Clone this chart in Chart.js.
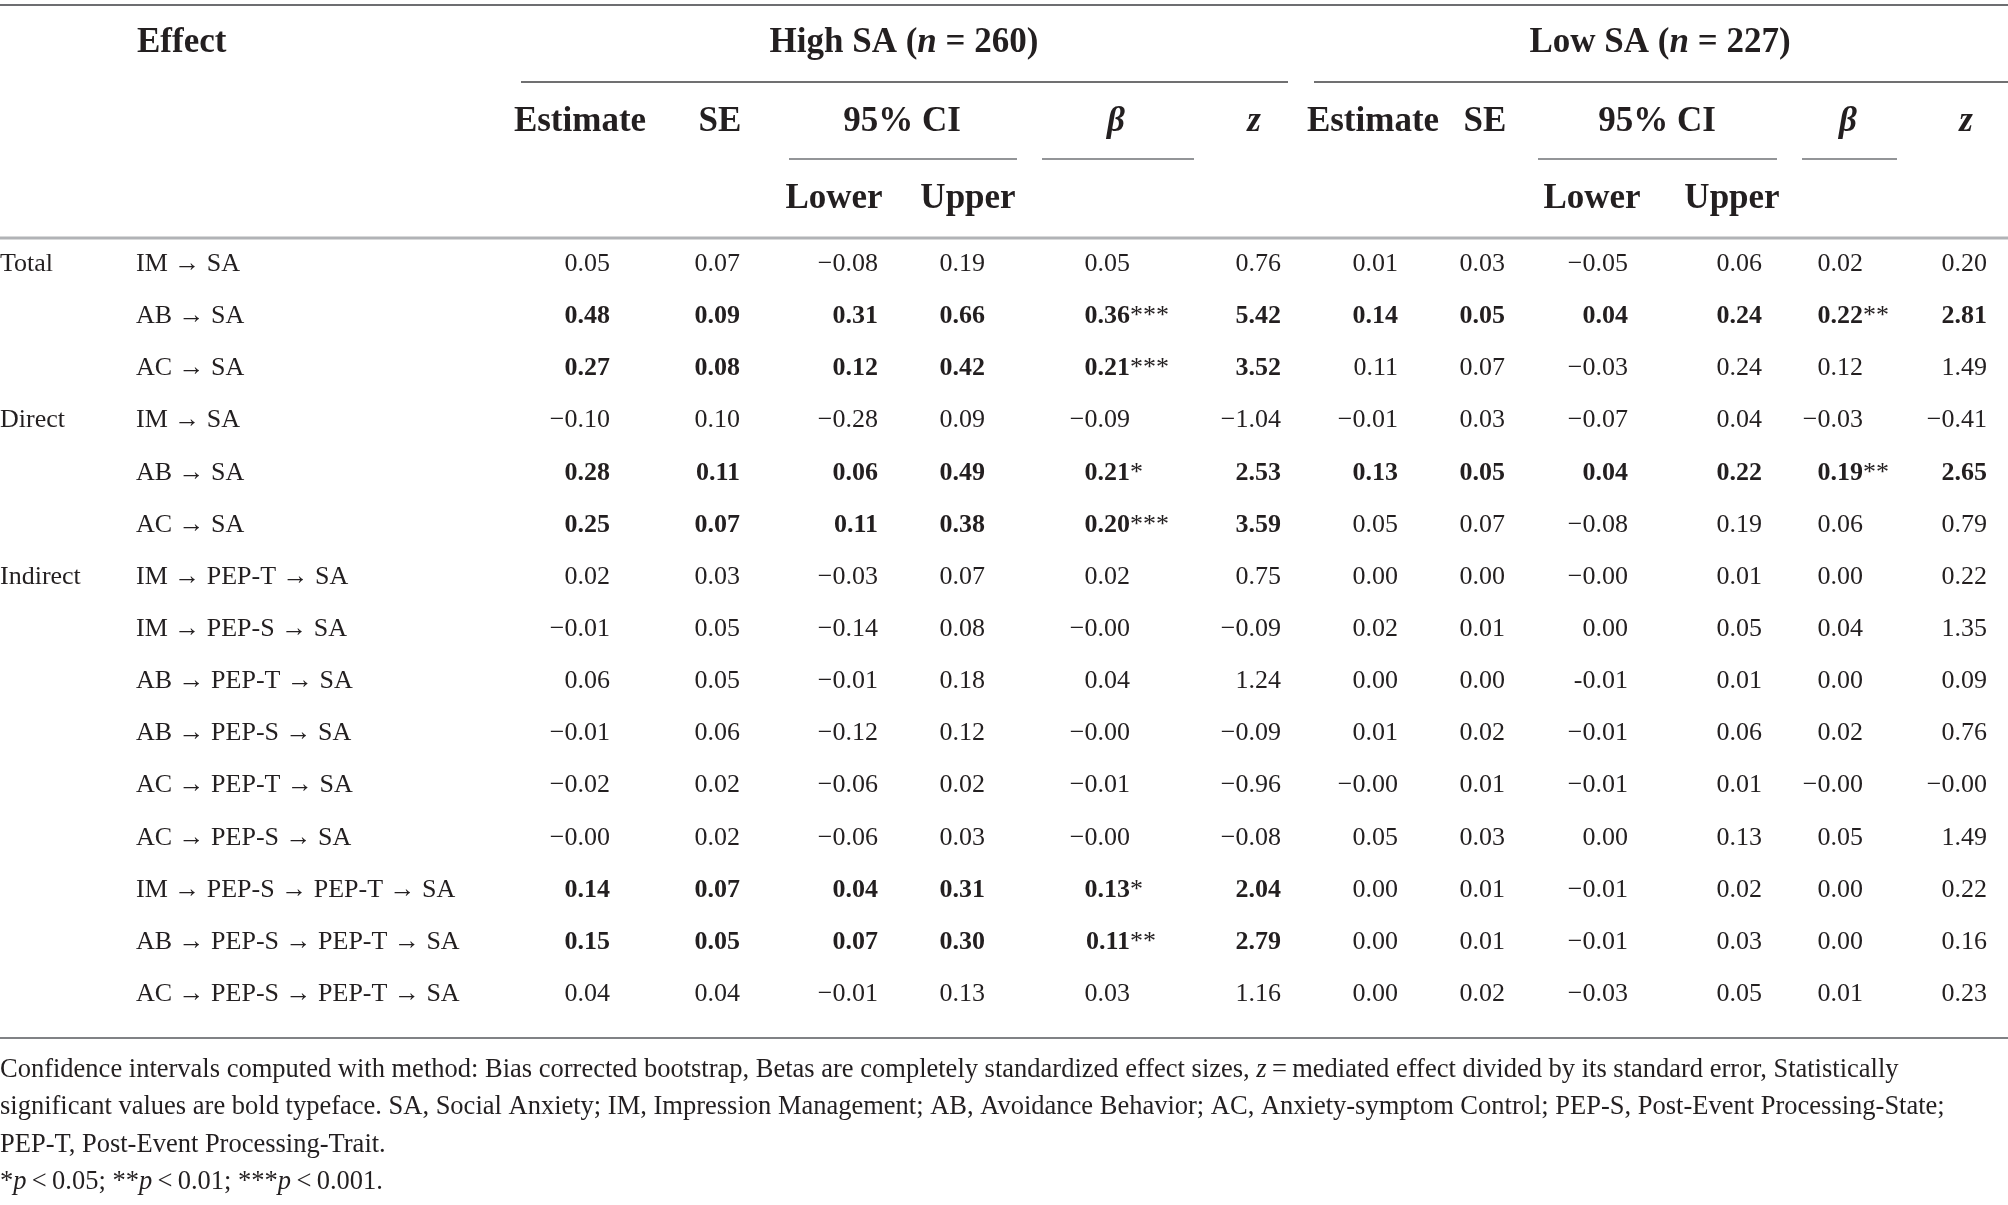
<!DOCTYPE html>
<html>
<head>
<meta charset="utf-8">
<script src="https://cdn.jsdelivr.net/npm/chart.js@4.4.1/dist/chart.umd.min.js"></script>
<style>
  html, body { margin: 0; background: #fff; }
  #wrap { width: 2008px; height: 1205px; position: relative; }
</style>
</head>
<body>
<div id="wrap"><canvas id="tbl"></canvas></div>
<script>
// Row labels
const groupLabels = ['Total', 'Direct', 'Indirect'];
const groupStartRows = [0, 3, 6];
const effects = [
  'IM → SA', 'AB → SA', 'AC → SA',
  'IM → SA', 'AB → SA', 'AC → SA',
  'IM → PEP-T → SA', 'IM → PEP-S → SA', 'AB → PEP-T → SA', 'AB → PEP-S → SA',
  'AC → PEP-T → SA', 'AC → PEP-S → SA',
  'IM → PEP-S → PEP-T → SA', 'AB → PEP-S → PEP-T → SA', 'AC → PEP-S → PEP-T → SA'
];

// High SA (n = 260)
const highEstimate = ['0.05', '0.48', '0.27', '−0.10', '0.28', '0.25', '0.02', '−0.01', '0.06', '−0.01', '−0.02', '−0.00', '0.14', '0.15', '0.04'];
const highSE       = ['0.07', '0.09', '0.08', '0.10', '0.11', '0.07', '0.03', '0.05', '0.05', '0.06', '0.02', '0.02', '0.07', '0.05', '0.04'];
const highLower    = ['−0.08', '0.31', '0.12', '−0.28', '0.06', '0.11', '−0.03', '−0.14', '−0.01', '−0.12', '−0.06', '−0.06', '0.04', '0.07', '−0.01'];
const highUpper    = ['0.19', '0.66', '0.42', '0.09', '0.49', '0.38', '0.07', '0.08', '0.18', '0.12', '0.02', '0.03', '0.31', '0.30', '0.13'];
const highBeta     = ['0.05', '0.36***', '0.21***', '−0.09', '0.21*', '0.20***', '0.02', '−0.00', '0.04', '−0.00', '−0.01', '−0.00', '0.13*', '0.11**', '0.03'];
const highZ        = ['0.76', '5.42', '3.52', '−1.04', '2.53', '3.59', '0.75', '−0.09', '1.24', '−0.09', '−0.96', '−0.08', '2.04', '2.79', '1.16'];
const highBold     = [false, true, true, false, true, true, false, false, false, false, false, false, true, true, false];

// Low SA (n = 227)
const lowEstimate = ['0.01', '0.14', '0.11', '−0.01', '0.13', '0.05', '0.00', '0.02', '0.00', '0.01', '−0.00', '0.05', '0.00', '0.00', '0.00'];
const lowSE       = ['0.03', '0.05', '0.07', '0.03', '0.05', '0.07', '0.00', '0.01', '0.00', '0.02', '0.01', '0.03', '0.01', '0.01', '0.02'];
const lowLower    = ['−0.05', '0.04', '−0.03', '−0.07', '0.04', '−0.08', '−0.00', '0.00', '-0.01', '−0.01', '−0.01', '0.00', '−0.01', '−0.01', '−0.03'];
const lowUpper    = ['0.06', '0.24', '0.24', '0.04', '0.22', '0.19', '0.01', '0.05', '0.01', '0.06', '0.01', '0.13', '0.02', '0.03', '0.05'];
const lowBeta     = ['0.02', '0.22**', '0.12', '−0.03', '0.19**', '0.06', '0.00', '0.04', '0.00', '0.02', '−0.00', '0.05', '0.00', '0.00', '0.01'];
const lowZ        = ['0.20', '2.81', '1.49', '−0.41', '2.65', '0.79', '0.22', '1.35', '0.09', '0.76', '−0.00', '1.49', '0.22', '0.16', '0.23'];
const lowBold     = [false, true, false, false, true, false, false, false, false, false, false, false, false, false, false];

// Column layout (right edge of the numbers, in px of the 2008 wide page)
const columns = [
  { values: highEstimate, bold: highBold, x: 610 },
  { values: highSE,       bold: highBold, x: 740 },
  { values: highLower,    bold: highBold, x: 878 },
  { values: highUpper,    bold: highBold, x: 985 },
  { values: highBeta,     bold: highBold, x: 1130 },
  { values: highZ,        bold: highBold, x: 1281 },
  { values: lowEstimate,  bold: lowBold,  x: 1398 },
  { values: lowSE,        bold: lowBold,  x: 1505 },
  { values: lowLower,     bold: lowBold,  x: 1628 },
  { values: lowUpper,     bold: lowBold,  x: 1762 },
  { values: lowBeta,      bold: lowBold,  x: 1863 },
  { values: lowZ,         bold: lowBold,  x: 1987 }
];

const INK = '#231f20';
const SERIF = '"Liberation Serif", "DejaVu Serif", serif';
const DATA_SIZE = 26;
const HEAD_SIZE = 35;
const NOTE_SIZE = 26.5;
const THIN = '\u2009';

// header rows / rules expressed in row units (row 0 = first data row)
const Y_TITLE = -4.25, Y_SUB = -2.75, Y_SUB2 = -1.26;
const Y_TOP = -4.94, Y_GROUP = -3.46, Y_CI = -1.985, Y_HEAD = -0.47, Y_BOTTOM = 14.874;
const Y_NOTES = [15.447, 16.157, 16.886, 17.595];

function font(style, size) {
  return `${style} ${size}px ${SERIF}`;
}

// draws a list of runs [{t, s}] where s is the font style
function drawRuns(ctx, runs, x, y, size, align) {
  let total = 0;
  runs.forEach(r => { ctx.font = font(r.s, size); total += ctx.measureText(r.t).width; });
  let cx = align === 'center' ? x - total / 2 : align === 'right' ? x - total : x;
  ctx.textAlign = 'left';
  runs.forEach(r => {
    ctx.font = font(r.s, size);
    ctx.fillText(r.t, cx, y);
    cx += ctx.measureText(r.t).width;
  });
}

function rule(ctx, xs, ys, x0, x1, yv, color, w) {
  const y = ys.getPixelForValue(yv);
  ctx.save();
  ctx.strokeStyle = color;
  ctx.lineWidth = w;
  ctx.beginPath();
  ctx.moveTo(xs.getPixelForValue(x0), y);
  ctx.lineTo(xs.getPixelForValue(x1), y);
  ctx.stroke();
  ctx.restore();
}

const tablePlugin = {
  id: 'tableText',
  afterDatasetsDraw(chart) {
    const ctx = chart.ctx;
    const xs = chart.scales.x;
    const ys = chart.scales.y;
    const base = size => size * 0.33; // baseline offset from visual centre
    ctx.save();
    ctx.fillStyle = INK;
    ctx.textBaseline = 'alphabetic';

    // rules
    rule(ctx, xs, ys, 0, 2008, Y_TOP, '#6d6e71', 2);
    rule(ctx, xs, ys, 521, 1288, Y_GROUP, '#414042', 1.6);
    rule(ctx, xs, ys, 1314, 2008, Y_GROUP, '#414042', 1.6);
    rule(ctx, xs, ys, 789, 1017, Y_CI, '#939598', 2);
    rule(ctx, xs, ys, 1042, 1194, Y_CI, '#939598', 2);
    rule(ctx, xs, ys, 1538, 1777, Y_CI, '#939598', 2);
    rule(ctx, xs, ys, 1802, 1897, Y_CI, '#939598', 2);
    rule(ctx, xs, ys, 0, 2008, Y_HEAD, '#b1b3b6', 3);
    rule(ctx, xs, ys, 0, 2008, Y_BOTTOM, '#808285', 2);

    // headers
    const hy = v => ys.getPixelForValue(v) + base(HEAD_SIZE);
    drawRuns(ctx, [{ t: 'Effect', s: 'bold' }], xs.getPixelForValue(137), hy(Y_TITLE), HEAD_SIZE, 'left');
    drawRuns(ctx, [{ t: 'High SA (', s: 'bold' }, { t: 'n', s: 'italic bold' }, { t: ' = 260)', s: 'bold' }],
      xs.getPixelForValue(904), hy(Y_TITLE), HEAD_SIZE, 'center');
    drawRuns(ctx, [{ t: 'Low SA (', s: 'bold' }, { t: 'n', s: 'italic bold' }, { t: ' = 227)', s: 'bold' }],
      xs.getPixelForValue(1660), hy(Y_TITLE), HEAD_SIZE, 'center');

    const subHeads = [
      ['Estimate', 580, 'bold'], ['SE', 720, 'bold'], ['95% CI', 902, 'bold'], ['β', 1116, 'italic bold'], ['z', 1254, 'italic bold'],
      ['Estimate', 1373, 'bold'], ['SE', 1485, 'bold'], ['95% CI', 1657, 'bold'], ['β', 1848, 'italic bold'], ['z', 1966, 'italic bold']
    ];
    subHeads.forEach(([t, x, s]) => drawRuns(ctx, [{ t, s }], xs.getPixelForValue(x), hy(Y_SUB), HEAD_SIZE, 'center'));
    [['Lower', 834], ['Upper', 968], ['Lower', 1592], ['Upper', 1732]].forEach(([t, x]) =>
      drawRuns(ctx, [{ t, s: 'bold' }], xs.getPixelForValue(x), hy(Y_SUB2), HEAD_SIZE, 'center'));

    // row labels
    const dy = v => ys.getPixelForValue(v) + base(DATA_SIZE);
    groupLabels.forEach((g, i) => drawRuns(ctx, [{ t: g, s: 'normal' }], xs.getPixelForValue(0), dy(groupStartRows[i]), DATA_SIZE, 'left'));
    effects.forEach((e, i) => drawRuns(ctx, [{ t: e, s: 'normal' }], xs.getPixelForValue(136), dy(i), DATA_SIZE, 'left'));

    // cells, positioned from each dataset's points
    chart.data.datasets.forEach((ds, di) => {
      const col = columns[di];
      chart.getDatasetMeta(di).data.forEach((pt, i) => {
        const m = col.values[i].match(/^([^*]*)(\**)$/);
        const style = col.bold[i] ? 'bold' : 'normal';
        const y = pt.y + base(DATA_SIZE);
        ctx.font = font(style, DATA_SIZE);
        ctx.textAlign = 'right';
        ctx.fillText(m[1], pt.x, y);
        if (m[2]) {
          ctx.font = font('normal', DATA_SIZE);
          ctx.textAlign = 'left';
          ctx.fillText(m[2], pt.x, y);
        }
      });
    });

    // notes
    const ny = v => ys.getPixelForValue(v) + base(NOTE_SIZE);
    const notes = [
      [{ t: 'Confidence intervals computed with method: Bias corrected bootstrap, Betas are completely standardized effect sizes, ', s: 'normal' },
       { t: 'z', s: 'italic' }, { t: THIN + '=' + THIN + 'mediated effect divided by its standard error, Statistically', s: 'normal' }],
      [{ t: 'significant values are bold typeface. SA, Social Anxiety; IM, Impression Management; AB, Avoidance Behavior; AC, Anxiety-symptom Control; PEP-S, Post-Event Processing-State;', s: 'normal' }],
      [{ t: 'PEP-T, Post-Event Processing-Trait.', s: 'normal' }],
      [{ t: '*', s: 'normal' }, { t: 'p', s: 'italic' }, { t: THIN + '<' + THIN + '0.05; **', s: 'normal' }, { t: 'p', s: 'italic' },
       { t: THIN + '<' + THIN + '0.01; ***', s: 'normal' }, { t: 'p', s: 'italic' }, { t: THIN + '<' + THIN + '0.001.', s: 'normal' }]
    ];
    notes.forEach((runs, i) => drawRuns(ctx, runs, xs.getPixelForValue(0), ny(Y_NOTES[i]), NOTE_SIZE, 'left'));
    ctx.restore();
  }
};

new Chart(document.getElementById('tbl'), {
  type: 'scatter',
  data: {
    datasets: columns.map(col => ({
      data: col.values.map((v, i) => ({ x: col.x, y: i })),
      pointRadius: 0,
      pointHoverRadius: 0
    }))
  },
  options: {
    responsive: true,
    maintainAspectRatio: false,
    animation: false,
    layout: { padding: 0 },
    events: [],
    plugins: { legend: { display: false }, tooltip: { enabled: false } },
    scales: {
      x: { type: 'linear', min: 0, max: 2008, display: false },
      y: { type: 'linear', min: -5.034, max: 18.076, reverse: true, display: false }
    }
  },
  plugins: [tablePlugin]
});
</script>
</body>
</html>
